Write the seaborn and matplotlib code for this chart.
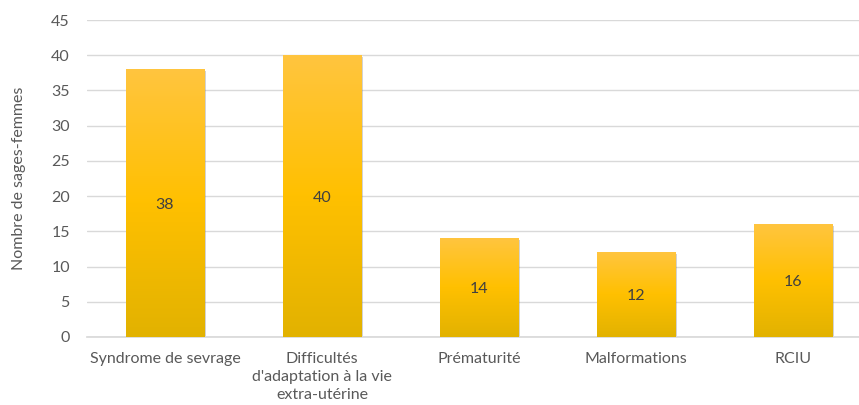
import numpy as np
import pandas as pd
import matplotlib
matplotlib.use("Agg")
import matplotlib.pyplot as plt
import matplotlib.patheffects as pe
from matplotlib.colors import LinearSegmentedColormap
import seaborn as sns

categories = ["Syndrome de sevrage", "Difficultés\nd'adaptation à la vie\nextra-utérine",
              "Prématurité", "Malformations", "RCIU"]
values = [38, 40, 14, 12, 16]
y_ticks = [0, 5, 10, 15, 20, 25, 30, 35, 40, 45]
y_label = "Nombre de sages-femmes"

sns.set_theme(style="white")
plt.rcParams['font.family'] = ['Lato', 'DejaVu Sans']

df = pd.DataFrame({"cat": categories, "val": values})

fig = plt.figure(figsize=(8.59, 4.05), dpi=100)
ax = fig.add_axes([86.5 / 859, 68 / 405, 785 / 859, 317 / 405])

sns.barplot(data=df, x="cat", y="val", color="#FFC000", width=0.5, ax=ax,
            saturation=1, zorder=2)

cmap = LinearSegmentedColormap.from_list("g", [(0, "#E2B200"), (0.5, "#FFC000"), (1, "#FFC53F")])
grad = np.linspace(0, 1, 256).reshape(-1, 1)
for p in ax.patches:
    x0, y0 = p.get_x(), p.get_y()
    w, h = p.get_width(), p.get_height()
    p.set_edgecolor("none")
    p.set_path_effects([pe.SimplePatchShadow(offset=(1.5, -1), shadow_rgbFace="#7f7f7f", alpha=0.35),
                        pe.Normal()])
    im = ax.imshow(grad, cmap=cmap, origin="lower", aspect="auto",
                   extent=[x0, x0 + w, y0, y0 + h], zorder=3)
    im.set_clip_path(p)
    ax.text(x0 + w / 2, h / 2, str(int(h)), ha="center", va="center_baseline",
            fontsize=11.5, color="#404040", zorder=4)

ax.set_xlim(-0.5, 4.5)
ax.set_ylim(0, 45)
ax.set_yticks(y_ticks)
ax.yaxis.grid(True, color="#D9D9D9", linewidth=1)
ax.set_axisbelow(True)
for s in ["top", "right", "left"]:
    ax.spines[s].set_visible(False)
ax.spines["bottom"].set_color("#D9D9D9")
ax.tick_params(axis="both", length=0, labelsize=11.5, labelcolor="#595959")
ax.tick_params(axis="y", pad=12)
ax.tick_params(axis="x", pad=11)
for lbl in ax.get_xticklabels():
    lbl.set_linespacing(1.35)
ax.set_xlabel("")
ax.set_ylabel(y_label, fontsize=11.5, color="#595959", labelpad=18)

fig.savefig("out.png", dpi=100)
